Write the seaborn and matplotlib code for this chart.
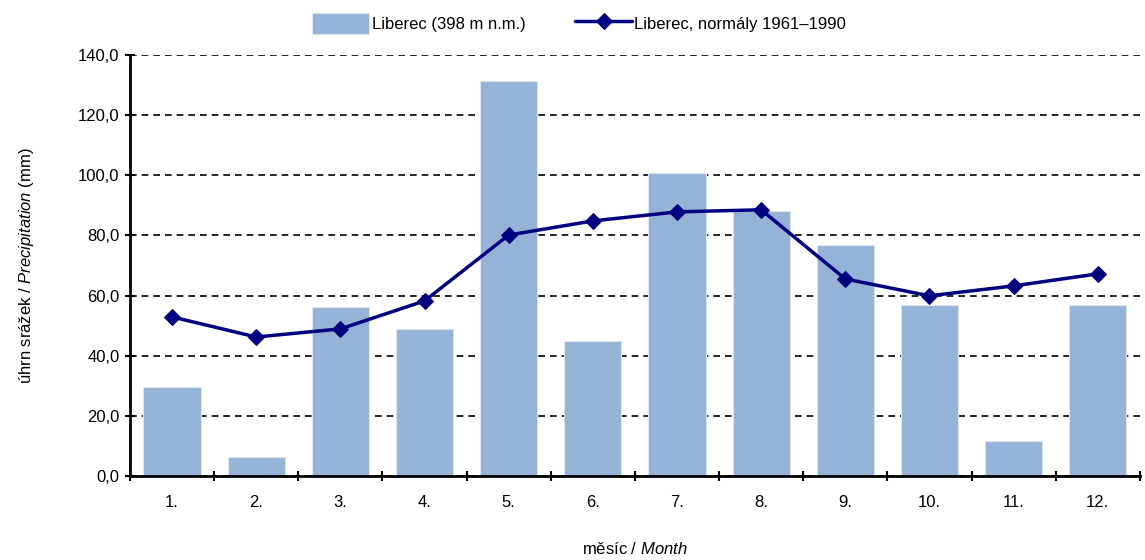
import numpy as np
import pandas as pd
import matplotlib
matplotlib.use('Agg')
import matplotlib.pyplot as plt
import seaborn as sns
from matplotlib.ticker import FuncFormatter, FixedLocator, MultipleLocator

# data
months = ['1.', '2.', '3.', '4.', '5.', '6.', '7.', '8.', '9.', '10.', '11.', '12.']
precip_2010 = [29.6, 6.3, 56.2, 48.9, 131.4, 44.9, 100.8, 88.1, 76.8, 56.9, 11.6, 56.9]
normals = [52.9, 46.2, 48.9, 58.2, 80.1, 84.8, 87.8, 88.5, 65.5, 59.9, 63.2, 67.2]

bar_label = 'Liberec (398 m n.m.)'
line_label = 'Liberec, normály 1961–1990'

sns.set_theme(style='white')
plt.rcParams['font.family'] = ['Liberation Sans', 'DejaVu Sans']
plt.rcParams['mathtext.fontset'] = 'custom'
plt.rcParams['mathtext.it'] = 'Liberation Sans:italic'
plt.rcParams['mathtext.rm'] = 'Liberation Sans'
plt.rcParams['text.color'] = 'black'
plt.rcParams['axes.labelcolor'] = 'black'
plt.rcParams['xtick.color'] = 'black'
plt.rcParams['ytick.color'] = 'black'

df = pd.DataFrame({'month': months, 'precip': precip_2010, 'normal': normals})

fig, ax = plt.subplots(figsize=(11.45, 5.6), dpi=100)
fig.subplots_adjust(left=0.1135, right=0.9955, top=0.902, bottom=0.15)

sns.barplot(data=df, x='month', y='precip', color='#95B3D7', saturation=1,
            width=0.68, edgecolor='#DCE6F2', linewidth=0.8, ax=ax, label=bar_label, zorder=2)
sns.lineplot(x=np.arange(len(months)), y=df['normal'], color='#000080', linewidth=2.5,
             marker='D', markersize=8, markeredgecolor='#000080', ax=ax, label=line_label, zorder=3)

ax.set_xlim(-0.5, len(months) - 0.5)
ax.set_ylim(0, 140)
ax.yaxis.set_major_locator(MultipleLocator(20))
ax.yaxis.set_major_formatter(FuncFormatter(lambda v, p: f'{v:.1f}'.replace('.', ',')))
ax.grid(axis='y', color='black', linestyle=(0, (4, 3)), linewidth=1.2, zorder=0)
ax.set_axisbelow(True)

ax.xaxis.set_minor_locator(FixedLocator(np.arange(-0.5, len(months), 1)))
ax.tick_params(axis='x', which='major', length=0, pad=14, labelsize=12)
ax.tick_params(axis='x', which='minor', length=7, width=1.5, direction='inout', color='black', bottom=True)
ax.tick_params(axis='y', which='major', length=7, width=1.5, direction='inout', color='black', left=True, labelsize=12, pad=4)

for s in ['top', 'right']:
    ax.spines[s].set_visible(False)
for s in ['left', 'bottom']:
    ax.spines[s].set_color('black')
    ax.spines[s].set_linewidth(2)

ax.set_xlabel('měsíc / $\\it{Month}$', fontsize=12, labelpad=22)
ax.set_ylabel('úhrn srážek / $\\it{Precipitation}$ (mm)', fontsize=12, labelpad=30)

handles, labels = ax.get_legend_handles_labels()
order = [labels.index(bar_label), labels.index(line_label)]
ax.legend([handles[i] for i in order], [labels[i] for i in order],
          loc='lower center', bbox_to_anchor=(0.445, 1.015), ncol=2, frameon=False,
          fontsize=12, handlelength=3.4, handleheight=1.5, columnspacing=3, handletextpad=0.15)

plt.savefig('out.png', dpi=100)
plt.close()
